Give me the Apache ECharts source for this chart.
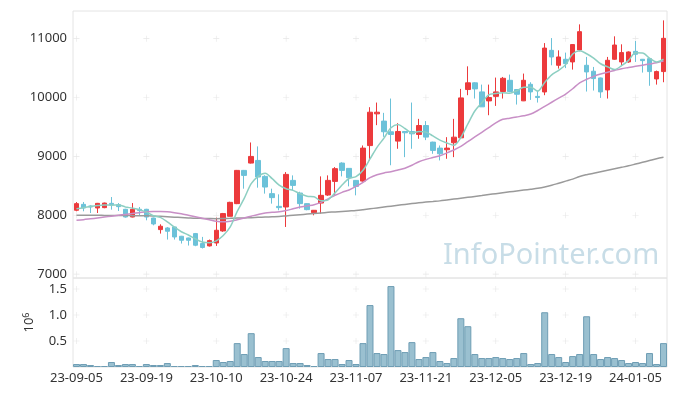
<!DOCTYPE html>
<html><head><meta charset="utf-8">
<script src="https://cdn.jsdelivr.net/npm/echarts@6/dist/echarts.min.js"></script>
<style>html,body{margin:0;padding:0;background:#fff}#c{width:677px;height:396px}</style>
</head><body><div id="c"></div>
<script>
const dates = ['23-09-05','23-09-06','23-09-07','23-09-08','23-09-11','23-09-12','23-09-13','23-09-14','23-09-15','23-09-18',
'23-09-19','23-09-20','23-09-21','23-09-22','23-09-25','23-09-26','23-09-27','23-10-04','23-10-05','23-10-06',
'23-10-10','23-10-11','23-10-12','23-10-13','23-10-16','23-10-17','23-10-18','23-10-19','23-10-20','23-10-23',
'23-10-24','23-10-25','23-10-26','23-10-27','23-10-30','23-10-31','23-11-01','23-11-02','23-11-03','23-11-06',
'23-11-07','23-11-08','23-11-09','23-11-10','23-11-13','23-11-14','23-11-15','23-11-16','23-11-17','23-11-20',
'23-11-21','23-11-22','23-11-23','23-11-24','23-11-27','23-11-28','23-11-29','23-11-30','23-12-01','23-12-04',
'23-12-05','23-12-06','23-12-07','23-12-08','23-12-11','23-12-12','23-12-13','23-12-14','23-12-15','23-12-18',
'23-12-19','23-12-20','23-12-21','23-12-22','23-12-26','23-12-27','23-12-28','24-01-02','24-01-03','24-01-04',
'24-01-05','24-01-08','24-01-09','24-01-10','24-01-11'];

const opens = [8085,8186,8158,8124,8130,8203,8181,8102,7971,8102,
8102,7954,7757,7785,7802,7644,7615,7689,7520,7480,
7530,7734,7983,8198,8763,8887,8932,8661,8368,8152,
8141,8593,8378,8198,8045,8208,8344,8576,8887,8797,
8593,8581,9184,9723,9600,9418,9260,9424,9424,9373,
9525,9243,9141,9113,9232,9316,10136,10250,10096,9943,
10020,10102,10293,10136,9944,10225,10020,10095,10802,10548,
10650,10605,10808,10548,10447,10333,10130,10650,10605,10605,
10785,10650,10661,10316,10441];
const closes = [8198,8124,8141,8203,8208,8181,8147,7971,8102,8080,
7971,7853,7814,7729,7632,7576,7576,7492,7453,7570,
7746,8029,8220,8763,8678,9000,8650,8480,8300,8130,
8695,8508,8198,8096,8085,8339,8593,8792,8763,8639,
8491,9141,9751,9751,9419,9373,9424,9402,9384,9525,
9328,9102,9045,9141,9327,9994,10250,10147,9842,10000,
10096,10327,10102,10056,10293,10096,10000,10840,10689,10689,
10576,10900,11119,10435,10322,10096,10633,10892,10763,10774,
10735,10627,10441,10441,11006];
const lows = [8068,8068,8039,8039,8120,8096,8073,7961,7965,8000,
7915,7830,7689,7588,7588,7520,7486,7475,7436,7470,
7480,7720,7983,8190,8452,8880,8469,8368,8198,8085,
7802,8424,8113,8085,8000,8029,8330,8339,8661,8491,
8339,8570,8932,9531,9333,8850,9130,8988,9130,9300,
9277,9045,8932,8960,8988,9300,10040,9983,9840,9700,
9858,9983,10090,9881,9940,9960,9915,10040,10548,10492,
10500,10475,10785,10102,10119,9994,9983,10640,10548,10590,
10605,10424,10200,10220,10260];
const highs = [8225,8225,8170,8210,8215,8310,8208,8110,8208,8141,
8110,7960,7847,7800,7802,7650,7620,7700,7633,7588,
7961,8040,8230,8770,8770,9237,9170,8680,8452,8356,
8734,8678,8400,8205,8090,8661,8678,8819,8900,8800,
8600,9186,9836,9915,9740,9983,9565,9430,9915,9638,
9600,9250,9186,9327,9638,10147,10530,10260,10220,10220,
10339,10350,10390,10140,10407,10260,10119,10925,11010,10802,
10763,10905,11243,10690,10520,10340,10690,11040,10904,10785,
10960,10655,10665,10458,11311];

const ma5 = [8110,8130,8150,8165,8175,8171,8176,8142,8122,8096,
8054,7995,7964,7889,7800,7721,7665,7601,7546,7533,
7567,7658,7804,8066,8287,8538,8662,8714,8622,8512,
8451,8423,8366,8325,8316,8245,8262,8381,8514,8625,
8656,8765,8957,9155,9311,9487,9544,9474,9400,9422,
9413,9348,9277,9228,9189,9322,9551,9772,9912,10047,
10067,10082,10073,10116,10175,10175,10109,10257,10384,10463,
10559,10739,10795,10744,10670,10574,10521,10476,10541,10632,
10759,10758,10668,10604,10650];
const ma20 = [7915,7925,7940,7955,7970,7985,8000,8015,8030,8045,
8060,8065,8065,8060,8045,8025,8000,7975,7950,7925,
7900,7890,7900,7925,7955,7985,8015,8040,8050,8060,
8080,8110,8140,8160,8180,8220,8280,8340,8390,8430,
8490,8560,8640,8690,8720,8740,8770,8800,8850,8910,
8950,8980,9010,9060,9110,9170,9250,9330,9410,9490,
9570,9630,9650,9670,9690,9720,9780,9850,9920,9990,
10060,10150,10250,10310,10360,10400,10430,10460,10490,10510,
10530,10550,10570,10590,10620];
const ma120 = [8000,8000,8000,8000,7998,7997,7996,7995,7994,7993,
7992,7988,7982,7975,7968,7962,7956,7950,7947,7944,
7942,7945,7948,7952,7956,7960,7965,7970,7975,7980,
7990,8000,8010,8020,8030,8040,8050,8058,8066,8074,
8082,8095,8110,8125,8140,8155,8170,8185,8200,8213,
8225,8235,8245,8260,8275,8290,8305,8320,8335,8352,
8368,8383,8398,8413,8428,8443,8458,8480,8510,8545,
8580,8615,8660,8690,8715,8740,8765,8790,8815,8840,
8870,8900,8930,8960,8985];

// volume in units of 10^6 shares
const volume = [0.057,0.057,0.038,0.019,0.019,0.096,0.038,0.057,0.057,0.019,
0.057,0.038,0.038,0.076,0.019,0.019,0.019,0.038,0.019,0.019,
0.134,0.096,0.115,0.459,0.249,0.650,0.191,0.115,0.115,0.115,
0.363,0.076,0.076,0.038,0.019,0.268,0.153,0.153,0.057,0.134,
0.057,0.459,1.190,0.268,0.249,1.555,0.325,0.287,0.478,0.153,
0.191,0.287,0.115,0.076,0.172,0.937,0.784,0.249,0.172,0.172,
0.191,0.172,0.153,0.172,0.268,0.057,0.076,1.052,0.249,0.191,
0.096,0.210,0.249,0.975,0.249,0.153,0.191,0.172,0.134,0.076,
0.096,0.076,0.268,0.057,0.459];

const priceTicks = [7000,8000,9000,10000,11000];
const volumeTicks = [0.5,1.0,1.5];
const labelEvery = 10;

const tickDates = dates.filter((d,i)=> i % labelEvery === 0);
const candleData = dates.map((d,i)=>[opens[i],closes[i],lows[i],highs[i]]);
const crossPrice = [], crossVol = [];
tickDates.forEach(d=>{ priceTicks.forEach(t=>crossPrice.push([d,t])); volumeTicks.forEach(t=>crossVol.push([d,t])); });

const FONT = 'Noto Sans';
const UP = '#ec3a3c', DOWN = '#6cc2d9';
const crossSym = 'path://M4.5,0H5.5V10H4.5ZM0,4.5H10V5.5H0Z';

const chart = echarts.init(document.getElementById('c'), null, {renderer:'canvas'});
chart.setOption({
  animation:false,
  backgroundColor:'#ffffff',
  textStyle:{fontFamily:FONT},
  grid:[
    {left:73, right:10, top:11, height:267, show:true, borderColor:'#e4e4e4', borderWidth:1, backgroundColor:'transparent'},
    {left:73, right:10, top:278, height:89, show:true, borderColor:'#e4e4e4', borderWidth:1, backgroundColor:'transparent'}
  ],
  graphic:[{type:'text', left:443, top:241, z:0, silent:true,
    style:{text:'InfoPointer.com', fontSize:29, fontFamily:FONT, fill:'#c8dde7'}}],
  xAxis:[
    {type:'category', gridIndex:0, data:dates, boundaryGap:true, axisLine:{show:false}, axisTick:{show:false}, axisLabel:{show:false}, splitLine:{show:false}},
    {type:'category', gridIndex:1, data:dates, boundaryGap:true, axisLine:{show:false}, axisTick:{show:false},
      axisLabel:{show:true, interval:labelEvery-1, fontSize:13, color:'#333', margin:5, fontFamily:FONT}, splitLine:{show:false}}
  ],
  yAxis:[
    {type:'value', gridIndex:0, min:6935, max:11470, splitNumber:5, axisLine:{show:false}, axisTick:{show:false}, splitLine:{show:false},
      axisLabel:{fontSize:13, color:'#333', margin:6, fontFamily:FONT, formatter:v=> (v % 1000 === 0 ? String(v) : '')}},
    {type:'value', gridIndex:1, min:0, max:1.71, interval:0.5, axisLine:{show:false}, axisTick:{show:false}, splitLine:{show:false},
      name:'10{s|6}', nameLocation:'middle', nameRotate:90, nameGap:36,
      nameTextStyle:{fontSize:13, color:'#333', fontFamily:FONT, rich:{s:{fontSize:9, color:'#333', verticalAlign:'top', padding:[0,0,6,0]}}},
      axisLabel:{fontSize:13, color:'#333', margin:6, fontFamily:FONT,
        formatter:v=> (v>0 && Math.abs(v*2-Math.round(v*2))<1e-9 ? v.toFixed(1) : '')}}
  ],
  series:[
    {type:'scatter', xAxisIndex:0, yAxisIndex:0, data:crossPrice, symbol:crossSym, symbolSize:6, silent:true, z:0,
      itemStyle:{color:'#e0e0e0'}},
    {type:'scatter', xAxisIndex:1, yAxisIndex:1, data:crossVol, symbol:crossSym, symbolSize:6, silent:true, z:0,
      itemStyle:{color:'#e0e0e0'}},
    {name:'Price', type:'candlestick', xAxisIndex:0, yAxisIndex:0, data:candleData, barWidth:5, z:3,
      itemStyle:{color:UP, color0:DOWN, borderColor:UP, borderColor0:DOWN, borderWidth:1}},
    {name:'MA120', type:'line', xAxisIndex:0, yAxisIndex:0, data:ma120, showSymbol:false, smooth:0.3, z:4,
      lineStyle:{color:'#9a9a9a', width:1.5}},
    {name:'MA20', type:'line', xAxisIndex:0, yAxisIndex:0, data:ma20, showSymbol:false, smooth:0.3, z:4,
      lineStyle:{color:'#c88fc6', width:1.5}},
    {name:'MA5', type:'line', xAxisIndex:0, yAxisIndex:0, data:ma5, showSymbol:false, smooth:0.3, z:4,
      lineStyle:{color:'#8dcfc2', width:1.5}},
    {name:'Volume', type:'bar', xAxisIndex:1, yAxisIndex:1, data:volume, barCategoryGap:'0%', z:3,
      itemStyle:{color:'#9ac0d0', borderColor:'#6e9db4', borderWidth:1}}
  ]
});
</script></body></html>
